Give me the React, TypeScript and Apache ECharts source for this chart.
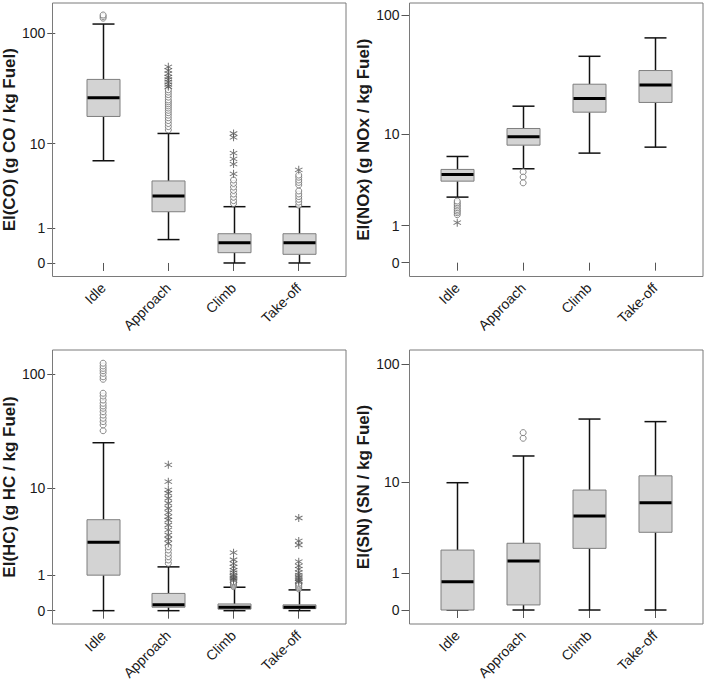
import React, { useEffect, useRef } from 'react';
import * as echarts from 'echarts';

// ---------- data ----------
const categories = ['Idle', 'Approach', 'Climb', 'Take-off'];
const yTickValues = [0, 1, 10, 100];

// box stats per category: [lower whisker, Q1, median, Q3, upper whisker]
const coBoxes = [
  [6.8, 18.0, 26.7, 39.0, 120.7],
  [0.6, 1.8, 2.84, 4.2, 12.5],
  [0, 0.23, 0.5, 0.8, 2.1],
  [0, 0.19, 0.5, 0.8, 2.1],
];
const coCircles = [
  [136, 140.6, 145],
  [13.5, 14.5, 15.5, 16.5, 17.5, 18.5, 19.5, 20.5, 21.5, 22.5, 23.5, 24.5, 25.5, 27, 28.5, 30, 31.5],
  [2.3, 2.5, 2.75, 3.0, 3.3, 3.6, 3.95, 4.3],
  [2.2, 2.4, 2.6, 2.8, 3.0, 3.25, 3.8, 4.05, 4.3, 4.6, 4.85],
];
const coStars = [
  [],
  [33.5, 35, 37, 39, 41, 44, 47, 50.5],
  [5.0, 6.3, 7.1, 8.1, 11.5, 12.5],
  [5.5],
];

const noxBoxes = [
  [2.4, 3.58, 4.19, 4.7, 6.26],
  [4.77, 7.97, 9.48, 11.24, 17.56],
  [6.73, 15.6, 20.4, 26.97, 46.1],
  [7.64, 18.9, 26.5, 35.1, 65.4],
];
const noxCircles = [
  [1.45, 1.54, 1.62, 1.7, 1.79, 1.88, 1.97, 2.06, 2.16],
  [4.45, 3.94, 3.44],
  [],
  [],
];
const noxStars = [[1.11], [], [], []];

const hcBoxes = [
  [0, 1.0, 2.8, 4.9, 25.5],
  [0, 0.07, 0.12, 0.4, 1.35],
  [0, 0.03, 0.07, 0.14, 0.58],
  [0, 0.04, 0.07, 0.12, 0.5],
];
const hcCircles = [
  [32.5, 36.5, 39, 41.7, 44.5, 47.6, 50.9, 53.3, 56.2, 60, 64.9, 68.6, 90.4, 95, 101.8, 107, 112, 117.5, 124],
  [1.52, 1.69, 1.87, 2.06, 2.27, 2.49],
  [0.6, 0.64, 0.68, 0.72, 0.76],
  [0.53, 0.57, 0.61, 0.65, 0.7],
];
const hcStars = [
  [],
  [2.72, 3.03, 3.38, 3.83, 4.32, 4.87, 5.27, 5.77, 6.38, 7.13, 7.97, 8.89, 9.55, 11.4, 16.2],
  [0.8, 0.85, 0.9, 0.95, 1.0, 1.1, 1.2, 1.35, 1.5, 1.7, 2.1],
  [0.75, 0.8, 0.86, 0.92, 1.0, 1.1, 1.25, 1.4, 1.6, 2.6, 2.9, 5.1],
];

const snBoxes = [
  [0, 0, 0.7, 2.08, 9.9],
  [0, 0.1, 1.51, 2.5, 17.0],
  [0, 2.18, 4.84, 8.5, 35.0],
  [0, 3.3, 6.49, 11.4, 33.3],
];
const snCircles = [[], [24.1, 26.9], [], []];
const snStars = [[], [], [], []];

const yTitles = [
  'EI(CO) (g CO / kg Fuel)',
  'EI(NOx) (g NOx / kg Fuel)',
  'EI(HC) (g HC / kg Fuel)',
  'EI(SN) (SN / kg Fuel)',
];

// ---------- layout ----------
const layouts = [
  { fx: 52.5, fy: 3, fw: 293.5, fh: 273.5, gx: 67.75, gw: 263.6, yMin: -0.118, yMax: 2.269, nameGap: 30 },
  { fx: 409.5, fy: 3, fw: 293.5, fh: 273.5, gx: 424.3, gw: 263.6, yMin: -0.112, yMax: 2.105, nameGap: 31 },
  { fx: 52.5, fy: 350, fw: 293.5, fh: 274, gx: 67.75, gw: 263.6, yMin: -0.113, yMax: 2.209, nameGap: 30 },
  { fx: 409.5, fy: 350, fw: 293.5, fh: 274, gx: 424.3, gw: 263.6, yMin: -0.114, yMax: 2.119, nameGap: 31 },
];

const T = (v: number) => Math.log10(1 + v);
const tickT = yTickValues.map(T);

const STAR =
  'path://M4.4,0 L5.6,0 L5.6,10 L4.4,10 Z M0.37,3.02 L0.97,1.98 L9.63,6.98 L9.03,8.02 Z M9.03,1.98 L9.63,3.02 L0.97,8.02 L0.37,6.98 Z';

const FONT = '"Liberation Sans", Arial, sans-serif';

function buildOption() {
  const panels = [
    { boxes: coBoxes, circles: coCircles, stars: coStars },
    { boxes: noxBoxes, circles: noxCircles, stars: noxStars },
    { boxes: hcBoxes, circles: hcCircles, stars: hcStars },
    { boxes: snBoxes, circles: snCircles, stars: snStars },
  ];
  const grid: any[] = [];
  const xAxis: any[] = [];
  const yAxis: any[] = [];
  const series: any[] = [];
  const graphic: any[] = [];

  panels.forEach((p, i) => {
    const L = layouts[i];
    grid.push({ left: L.gx, top: L.fy, width: L.gw, height: L.fh });
    graphic.push({
      type: 'rect',
      shape: { x: L.fx, y: L.fy, width: L.fw, height: L.fh },
      style: { fill: 'none', stroke: '#7a7a7a', lineWidth: 1 },
      silent: true,
      z: 10,
    });
    xAxis.push({
      type: 'category',
      gridIndex: i,
      data: categories,
      boundaryGap: true,
      axisLine: { show: false },
      axisTick: { show: true, alignWithLabel: true, length: 8, lineStyle: { color: '#555', width: 1 } },
      axisLabel: { rotate: 45, margin: 9, fontSize: 14, color: '#1a1a1a', interval: 0, fontFamily: FONT },
      splitLine: { show: false },
    });
    yAxis.push({
      type: 'value',
      gridIndex: i,
      min: L.yMin,
      max: L.yMax,
      offset: L.gx - L.fx,
      axisLine: { show: false },
      splitLine: { show: false },
      axisTick: { show: true, length: 8, customValues: tickT, lineStyle: { color: '#555', width: 1 } },
      axisLabel: {
        customValues: tickT,
        fontSize: 14,
        margin: 10,
        color: '#1a1a1a',
        fontFamily: FONT,
        formatter: (val: number) => {
          const k = tickT.findIndex((t) => Math.abs(t - val) < 1e-6);
          return k >= 0 ? String(yTickValues[k]) : '';
        },
      },
      name: yTitles[i],
      nameLocation: 'middle',
      nameGap: L.nameGap,
      nameTextStyle: { fontSize: 17, fontWeight: 'bold', color: '#1a1a1a', fontFamily: FONT },
    });

    series.push({
      type: 'custom',
      xAxisIndex: i,
      yAxisIndex: i,
      encode: { x: 0, y: [1, 2, 3, 4, 5] },
      data: p.boxes.map((b, ci) => [ci, ...b.map(T)]),
      renderItem: (_params: any, api: any) => {
        const x = api.value(0);
        const lo = api.coord([x, api.value(1)]);
        const q1 = api.coord([x, api.value(2)]);
        const md = api.coord([x, api.value(3)]);
        const q3 = api.coord([x, api.value(4)]);
        const hi = api.coord([x, api.value(5)]);
        const cx = Math.round(lo[0]) + 0.5;
        const bw = 33;
        const cw = 22;
        const ws = { stroke: '#111', lineWidth: 1.5 };
        const children: any[] = [
          { type: 'line', shape: { x1: cx, y1: hi[1], x2: cx, y2: q3[1] }, style: ws },
          { type: 'line', shape: { x1: cx, y1: q1[1], x2: cx, y2: lo[1] }, style: ws },
          { type: 'line', shape: { x1: cx - cw / 2, y1: hi[1], x2: cx + cw / 2, y2: hi[1] }, style: ws },
          { type: 'line', shape: { x1: cx - cw / 2, y1: lo[1], x2: cx + cw / 2, y2: lo[1] }, style: ws },
          {
            type: 'rect',
            shape: { x: cx - bw / 2, y: q3[1], width: bw, height: q1[1] - q3[1] },
            style: { fill: '#d3d3d3', stroke: '#7f7f7f', lineWidth: 1 },
          },
          {
            type: 'line',
            shape: { x1: cx - bw / 2 + 0.5, y1: md[1], x2: cx + bw / 2 - 0.5, y2: md[1] },
            style: { stroke: '#000', lineWidth: 3 },
          },
        ];
        return { type: 'group', children };
      },
      z: 2,
    });

    const circ: number[][] = [];
    p.circles.forEach((arr, ci) => arr.forEach((v) => circ.push([ci, T(v)])));
    series.push({
      type: 'scatter',
      xAxisIndex: i,
      yAxisIndex: i,
      data: circ,
      symbol: 'circle',
      symbolSize: 6,
      itemStyle: { color: '#ffffff', borderColor: '#6a6a6a', borderWidth: 1 },
      z: 3,
    });
    const st: number[][] = [];
    p.stars.forEach((arr, ci) => arr.forEach((v) => st.push([ci, T(v)])));
    series.push({
      type: 'scatter',
      xAxisIndex: i,
      yAxisIndex: i,
      data: st,
      symbol: STAR,
      symbolSize: 8,
      itemStyle: { color: '#555555' },
      z: 3,
    });
  });

  return {
    animation: false,
    backgroundColor: '#ffffff',
    textStyle: { fontFamily: FONT },
    grid,
    xAxis,
    yAxis,
    series,
    graphic,
  };
}

export default function App() {
  const ref = useRef<HTMLDivElement>(null);
  useEffect(() => {
    if (!ref.current) return;
    const chart = echarts.init(ref.current, undefined, { renderer: 'svg' });
    chart.setOption(buildOption() as any);
    return () => chart.dispose();
  }, []);
  return (
    <div
      ref={ref}
      style={{ position: 'absolute', left: 0, top: 0, width: 705, height: 684, background: '#fff' }}
    />
  );
}
